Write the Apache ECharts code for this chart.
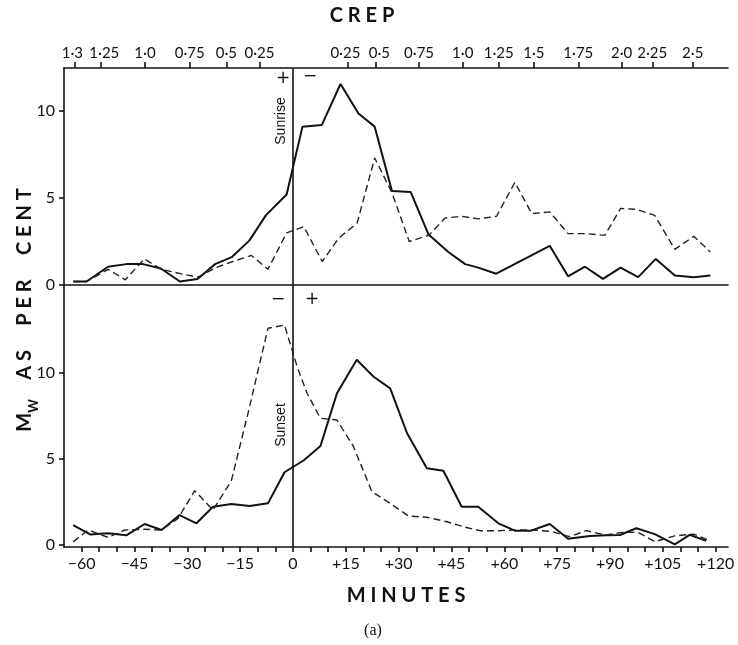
<!DOCTYPE html>
<html>
<head>
<meta charset="utf-8">
<script src="https://cdn.jsdelivr.net/npm/echarts@6/dist/echarts.min.js"></script>
<style>
  html, body { margin: 0; padding: 0; background: #fff; }
  #chart { width: 738px; height: 645px; }
</style>
</head>
<body>
<div id="chart"></div>

<script>
  // 刻度 (分钟)
  var minuteTicks = [-60,-55,-50,-45,-40,-35,-30,-25,-20,-15,-10,-5,0,5,10,15,20,25,30,35,40,45,50,55,60,65,70,75,80,85,90,95,100,105,110,115,120];
  var minuteLabels = [-60,-45,-30,-15,0,15,30,45,60,75,90,105,120];
  var yTicks = [0, 5, 10];

  // CREP 顶部刻度: 位置 (分钟) 和文字
  var crepPos  = [-61.9, -54.7, -42.0, -29.3, -18.9, -9.5, 15.6, 23.4, 35.8, 48.2, 58.4, 68.4, 81.0, 93.3, 102.0, 113.5];
  var crepText = ['1·3', '1·25', '1·0', '0·75', '0·5', '0·25', '0·25', '0·5', '0·75', '1·0', '1·25', '1·5', '1·75', '2·0', '2·25', '2·5'];

  // 上图 Sunrise  [分钟, 百分比]
  var riseSolid = [[-62.4,0.2],[-58.6,0.2],[-52.5,1.05],[-47.3,1.2],[-42.6,1.2],[-37.5,0.95],[-32.1,0.2],[-27.1,0.35],[-22.1,1.2],[-17.4,1.6],[-12.4,2.55],[-7.7,4.0],[-1.8,5.2],[2.7,9.1],[8.2,9.2],[13.5,11.55],[18.6,9.85],[23.2,9.1],[28.1,5.4],[33.4,5.35],[38.5,2.9],[44.1,1.9],[48.9,1.2],[52.6,1.0],[57.7,0.65],[72.9,2.25],[78.1,0.5],[82.9,1.05],[88.0,0.35],[93.0,1.0],[98.0,0.45],[103.0,1.5],[108.4,0.55],[113.8,0.45],[118.5,0.55]];
  var riseDash = [[-62.4,0.2],[-58.6,0.2],[-52.5,0.9],[-47.6,0.3],[-42.2,1.5],[-37.4,0.9],[-31.9,0.65],[-27.0,0.45],[-21.8,1.0],[-17.1,1.35],[-11.8,1.7],[-7.1,0.9],[-1.8,3.0],[3.1,3.35],[8.3,1.35],[13.0,2.7],[18.2,3.55],[23.2,7.3],[28.1,5.3],[33.0,2.5],[38.5,2.85],[43.2,3.85],[47.9,3.95],[52.6,3.8],[57.8,3.95],[63.0,5.9],[67.8,4.1],[72.9,4.2],[78.1,2.95],[83.3,2.95],[88.5,2.85],[93.0,4.4],[97.5,4.35],[102.7,4.0],[108.4,2.05],[113.8,2.8],[118.5,1.9]];

  // 下图 Sunset
  var setSolid = [[-62.4,1.13],[-57.6,0.58],[-52.5,0.65],[-47.3,0.53],[-42.1,1.19],[-37.3,0.84],[-32.2,1.71],[-27.4,1.23],[-22.7,2.19],[-17.5,2.35],[-12.3,2.24],[-7.1,2.39],[-2.4,4.2],[3.1,4.9],[7.8,5.73],[12.5,8.8],[18.1,10.75],[22.9,9.76],[27.6,9.08],[32.4,6.47],[38.0,4.43],[42.7,4.29],[47.9,2.19],[52.6,2.19],[58.3,1.23],[63.0,0.8],[67.6,0.8],[72.9,1.19],[78.1,0.33],[84.3,0.49],[89.0,0.53],[92.8,0.55],[97.5,0.94],[102.7,0.6],[108.4,0.0],[112.6,0.56],[117.3,0.21]];
  var setDash = [[-62.4,0.15],[-58.1,0.84],[-52.5,0.41],[-47.7,0.84],[-42.1,0.88],[-37.3,0.84],[-32.6,1.52],[-27.9,3.13],[-22.7,2.0],[-17.5,3.7],[-12.8,7.6],[-7.1,12.58],[-2.4,12.77],[1.2,10.34],[4.0,8.8],[7.8,7.34],[12.5,7.24],[17.2,5.69],[22.4,3.07],[27.6,2.39],[32.8,1.65],[38.0,1.58],[43.7,1.32],[48.4,1.03],[53.1,0.8],[58.3,0.8],[63.0,0.84],[68.2,0.84],[73.5,0.75],[78.5,0.45],[83.3,0.8],[88.5,0.55],[93.5,0.7],[98.0,0.7],[102.7,0.16],[108.4,0.5],[113.8,0.6],[117.8,0.25]];

  var App = {};

  App.init = function(){
    var _this = this;
    var font = 'Lato, "DejaVu Sans", sans-serif';

    // 分钟标签: -60 / 0 / +15
    var fmtMinute = function(v){
      if (v > 0) return '+' + v;
      if (v < 0) return '\u2212' + (-v);
      return '0';
    };

    // 挤在一起的标签稍微错开 (l 向左, r 向右)
    var fmtCrep = function(v){
      for (var i = 0; i < crepPos.length; i++) {
        if (Math.abs(crepPos[i] - v) < 0.01) {
          if (i === 0 || i === 6) return '{l|' + crepText[i] + '}';
          if (i === 1 || i === 7) return '{r|' + crepText[i] + '}';
          return crepText[i];
        }
      }
      return '';
    };

    var line = { color: '#111', width: 1.6 };

    var zeroLine = {
      silent: true,
      symbol: ['none', 'none'],
      label: { show: false },
      lineStyle: { color: '#111', width: 1.6, type: 'solid' },
      emphasis: { disabled: true },
      data: [{ xAxis: 0 }]
    };

    var lineSeries = function(data, xi, yi, dashed, mark){
      var s = {
        type: 'line',
        xAxisIndex: xi,
        yAxisIndex: yi,
        data: data,
        symbol: 'none',
        silent: true,
        lineStyle: dashed ? { color: '#222', width: 1.4, type: [7, 4] } : { color: '#111', width: 2 }
      };
      if (mark) s.markLine = zeroLine;
      return s;
    };

    _this.F_loadChart = function(){
      var chart = echarts.init(document.getElementById('chart'));

      var option = {
        backgroundColor: '#fff',
        animation: false,
        grid: [
          { left: 64, top: 68, width: 664, height: 217, outerBoundsMode: 'none' },
          { left: 64, top: 285, width: 664, height: 262, outerBoundsMode: 'none' }
        ],
        xAxis: [
          { // CREP
            gridIndex: 0, type: 'value', position: 'top', min: -65, max: 123.5,
            axisLine: { onZero: false, lineStyle: line },
            axisTick: { customValues: crepPos, length: 6, lineStyle: line },
            axisLabel: {
              customValues: crepPos, formatter: fmtCrep, color: '#111', fontFamily: font, fontSize: 15, margin: 7,
              rich: {
                l: { fontFamily: font, fontSize: 15, padding: [0, 5, 0, 0] },
                r: { fontFamily: font, fontSize: 15, padding: [0, 0, 0, 8] }
              }
            },
            splitLine: { show: false }
          },
          { // 中间的 0 线
            gridIndex: 0, type: 'value', position: 'bottom', min: -65, max: 123.5,
            axisLine: { onZero: false, lineStyle: line },
            axisTick: { show: false },
            axisLabel: { show: false },
            splitLine: { show: false }
          },
          { // MINUTES
            gridIndex: 1, type: 'value', position: 'bottom', min: -65, max: 123.5,
            axisLine: { onZero: false, lineStyle: line },
            axisTick: { customValues: minuteTicks, length: 5, lineStyle: line },
            axisLabel: { customValues: minuteLabels, formatter: fmtMinute, color: '#111', fontFamily: font, fontSize: 16, margin: 9 },
            splitLine: { show: false }
          }
        ],
        yAxis: [
          {
            gridIndex: 0, type: 'value', min: 0, max: 12.47,
            axisLine: { show: true, onZero: false, lineStyle: line },
            axisTick: { show: true, customValues: yTicks, length: 5, lineStyle: line },
            axisLabel: { customValues: yTicks, color: '#111', fontFamily: font, fontSize: 16, margin: 9 },
            splitLine: { show: false }
          },
          {
            gridIndex: 1, type: 'value', min: -0.15, max: 15.1,
            axisLine: { show: true, onZero: false, lineStyle: line },
            axisTick: { show: true, customValues: yTicks, length: 5, lineStyle: line },
            axisLabel: { customValues: yTicks, color: '#111', fontFamily: font, fontSize: 16, margin: 9 },
            splitLine: { show: false }
          }
        ],
        series: [
          lineSeries(riseSolid, 0, 0, false, true),
          lineSeries(riseDash, 0, 0, true, false),
          lineSeries(setSolid, 2, 1, false, true),
          lineSeries(setDash, 2, 1, true, false)
        ],
        graphic: [
          { type: 'text', x: 362, y: 16, style: { text: 'C R E P', fill: '#111', font: 'bold 20px ' + font, align: 'center', verticalAlign: 'middle' } },
          { type: 'text', x: 406, y: 596, style: { text: 'M I N U T E S', fill: '#111', font: 'bold 20px ' + font, align: 'center', verticalAlign: 'middle' } },
          { type: 'text', x: 373, y: 631, style: { text: '(a)', fill: '#111', font: '16px "Liberation Serif", serif', align: 'center', verticalAlign: 'middle' } },
          { // 纵轴名称 Mw AS PER CENT
            type: 'text', x: 25, y: 310, rotation: Math.PI / 2,
            style: {
              text: '{m|M}{w|W}{t|    A S     P E R     C E N T}',
              align: 'center', verticalAlign: 'middle', fill: '#111',
              rich: {
                m: { fontSize: 20, fontWeight: 'bold', fontFamily: font, lineHeight: 20, verticalAlign: 'top' },
                w: { fontSize: 13, fontWeight: 'bold', fontFamily: font, lineHeight: 13, padding: [12, 0, 0, 0], verticalAlign: 'top' },
                t: { fontSize: 20, fontWeight: 'bold', fontFamily: font, lineHeight: 20, verticalAlign: 'top' }
              }
            }
          },
          { type: 'text', x: 281, y: 121, rotation: Math.PI / 2, style: { text: 'Sunrise', fill: '#111', font: '14px "Liberation Sans", sans-serif', align: 'center', verticalAlign: 'middle' } },
          { type: 'text', x: 283, y: 79, style: { text: '+', fill: '#111', font: '17px "DejaVu Sans", sans-serif', align: 'center', verticalAlign: 'middle' } },
          { type: 'text', x: 310, y: 77, style: { text: '\u2212', fill: '#111', font: '17px "DejaVu Sans", sans-serif', align: 'center', verticalAlign: 'middle' } },
          { type: 'text', x: 281, y: 425, rotation: Math.PI / 2, style: { text: 'Sunset', fill: '#111', font: '14px "Liberation Sans", sans-serif', align: 'center', verticalAlign: 'middle' } },
          { type: 'text', x: 278, y: 300, style: { text: '\u2212', fill: '#111', font: '17px "DejaVu Sans", sans-serif', align: 'center', verticalAlign: 'middle' } },
          { type: 'text', x: 312, y: 300, style: { text: '+', fill: '#111', font: '17px "DejaVu Sans", sans-serif', align: 'center', verticalAlign: 'middle' } }
        ]
      };

      chart.setOption(option);
    };

    _this.F_loadChart();
  };

  App.init();
</script>
</body>
</html>
